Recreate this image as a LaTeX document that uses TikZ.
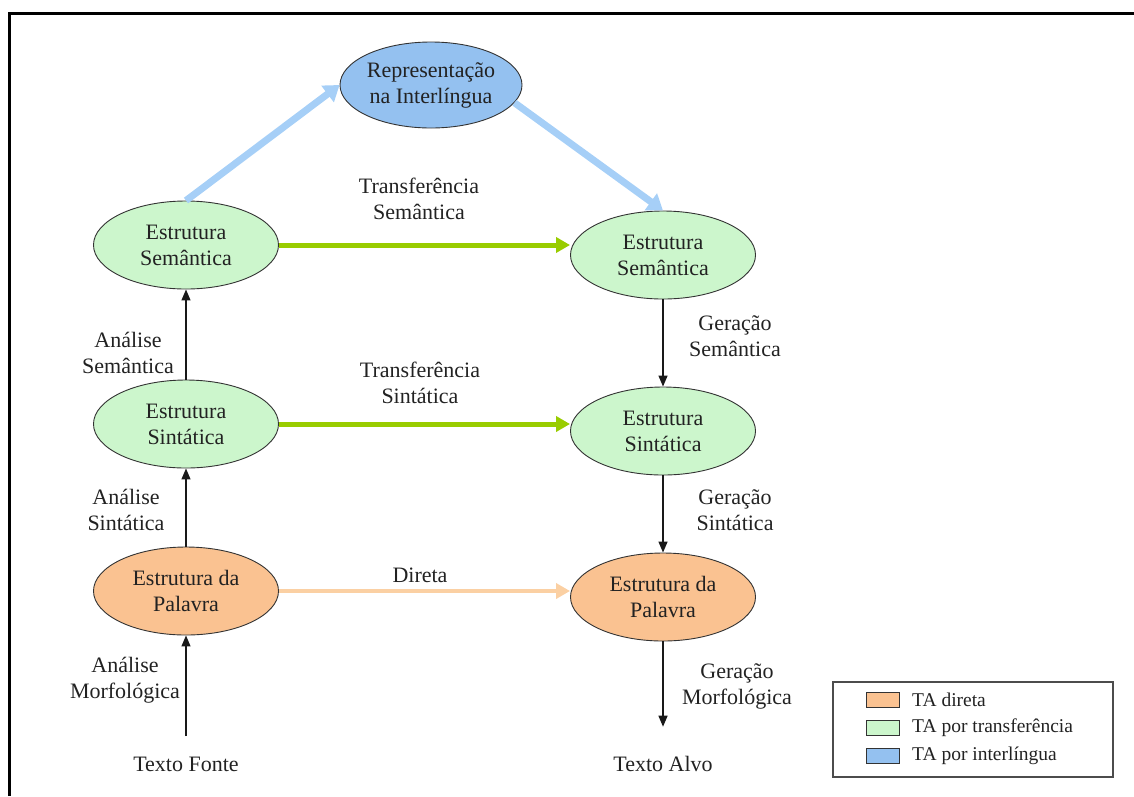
\documentclass[tikz,border=0pt]{standalone}
\usepackage{fontspec}
\setmainfont{Liberation Serif}
\usetikzlibrary{arrows.meta,shapes.geometric}
\definecolor{fillOrange}{HTML}{FAC291}
\definecolor{fillGreen}{HTML}{CCF6CC}
\definecolor{fillBlue}{HTML}{94C1F0}
\definecolor{arrBlue}{HTML}{A6CFF7}
\definecolor{arrGreen}{HTML}{99CC00}
\definecolor{arrOrange}{HTML}{FBD0A3}
\definecolor{txt}{HTML}{222222}
\tikzset{
  stage/.style={ellipse, draw=black!80, line width=0.9pt, minimum width=185pt,
    minimum height=88pt, inner sep=0pt, align=center, text=txt,
    font=\fontsize{22}{26}\selectfont},
  lbl/.style={align=center, text=txt, font=\fontsize{22}{26}\selectfont},
  legtxt/.style={anchor=west, text=txt, inner sep=0pt, font=\fontsize{19.5}{22}\selectfont},
  swatch/.style={draw=black!80, line width=1pt},
  thin arrow/.style={draw=black!90, line width=1.3pt, -{Triangle[length=11pt,width=9pt]}},
  blue arrow/.style={draw=arrBlue, line width=7pt, -{Triangle[length=15pt,width=20pt]}},
  green arrow/.style={draw=arrGreen, line width=5pt, -{Triangle[length=14pt,width=15pt]}},
  orange arrow/.style={draw=arrOrange, line width=4pt, -{Triangle[length=14pt,width=15pt]}},
}
\begin{document}
\begin{tikzpicture}[x=1pt,y=-1pt]
\useasboundingbox (0,0) rectangle (1134,796);
% page frame (top and left edges)
\draw[line width=3pt] (9,796) -- (9,13) -- (1134,13);

% stages
\node[stage, fill=fillBlue, minimum width=182pt, minimum height=86pt] (inter) at (431,85) {Representação\\na Interlíngua};
\node[stage, fill=fillGreen] (lsem) at (186,245) {Estrutura\\Semântica};
\node[stage, fill=fillGreen] (rsem) at (663,255) {Estrutura\\Semântica};
\node[stage, fill=fillGreen] (lsin) at (186,424) {Estrutura\\Sintática};
\node[stage, fill=fillGreen] (rsin) at (663,431) {Estrutura\\Sintática};
\node[stage, fill=fillOrange] (lpal) at (186,591) {Estrutura da\\Palavra};
\node[stage, fill=fillOrange] (rpal) at (663,597) {Estrutura da\\Palavra};
\node[lbl] (tf) at (186,764) {Texto Fonte};
\node[lbl] (ta) at (663,764) {Texto Alvo};

% connectors
\draw[blue arrow] (lsem.north) -- (inter.west);
\draw[blue arrow] (inter.-12) -- (rsem.north);
\draw[green arrow] (lsem.east) -- (lsem.east -| rsem.west);
\draw[green arrow] (lsin.east) -- (lsin.east -| rsin.west);
\draw[orange arrow] (lpal.east) -- (lpal.east -| rpal.west);
\draw[thin arrow, shorten <=17pt] (tf.north) -- (lpal.south);
\draw[thin arrow] (lpal.north) -- (lsin.south);
\draw[thin arrow] (lsin.north) -- (lsem.south);
\draw[thin arrow] (rsem.south) -- (rsin.north);
\draw[thin arrow] (rsin.south) -- (rpal.north);
\draw[thin arrow, shorten >=26pt] (rpal.south) -- (ta.north);

% connector labels
\node[lbl] (l1) at (419,199) {Transferência\\Semântica};
\node[lbl] (l2) at (420,383) {Transferência\\Sintática};
\node[lbl] (l3) at (420,575) {Direta};
\node[lbl] (l4) at (128,353) {Análise\\Semântica};
\node[lbl] (l5) at (126,510) {Análise\\Sintática};
\node[lbl] (l6) at (125,680) {Análise\\Morfológica};
\node[lbl] (l7) at (735,336) {Geração\\Semântica};
\node[lbl] (l8) at (735,510) {Geração\\Sintática};
\node[lbl] (l9) at (737,686) {Geração\\Morfológica};

% legend
\draw[draw=black!70, line width=1.3pt] (833,682) rectangle (1113,777);
\draw[swatch, fill=fillOrange] (866,692) rectangle (899,707);
\draw[swatch, fill=fillGreen] (866,720) rectangle (899,735);
\draw[swatch, fill=fillBlue] (866,748) rectangle (899,763);
\node[legtxt] (g1) at (912,700) {TA direta};
\node[legtxt] (g2) at (912,728) {TA por transferência};
\node[legtxt] (g3) at (912,756) {TA por interlíngua};
\end{tikzpicture}
\end{document}
